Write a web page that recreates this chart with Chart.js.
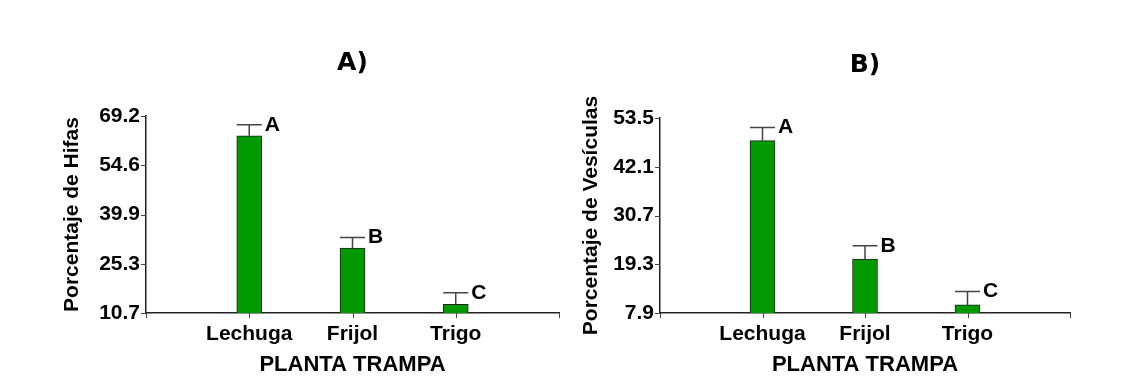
<!DOCTYPE html>
<html>
<head>
<meta charset="utf-8">
<script src="https://cdn.jsdelivr.net/npm/chart.js@4.4.1/dist/chart.umd.min.js"></script>
<style>
html,body{margin:0;padding:0;background:#fff;}
#wrap{position:relative;width:1145px;height:379px;overflow:hidden;}
.box{position:absolute;top:0;height:379px;}
</style>
</head>
<body>
<div id="wrap">
  <div class="box" style="left:0;width:572px;"><canvas id="cA" width="572" height="379"></canvas></div>
  <div class="box" style="left:572px;width:573px;"><canvas id="cB" width="573" height="379"></canvas></div>
</div>
<script>
// ---- data ----
const categories = ['Lechuga', 'Frijol', 'Trigo'];
const hifasValues = [63.3, 30.0, 13.3];
const hifasErrors = [3.3, 3.1, 3.4];
const hifasLetters = ['A', 'B', 'C'];
const hifasTicks = [10.7, 25.3, 39.9, 54.6, 69.2];
const vesiculasValues = [48.2, 20.5, 9.8];
const vesiculasErrors = [3.1, 3.1, 3.1];
const vesiculasLetters = ['A', 'B', 'C'];
const vesiculasTicks = [7.9, 19.3, 30.7, 42.1, 53.5];

const FONT = 'Liberation Sans, Arial, sans-serif';
const AXIS = '#222';

const errorPlugin = {
  id: 'errs',
  afterDatasetsDraw(chart, args, opts) {
    const ctx = chart.ctx;
    const meta = chart.getDatasetMeta(0);
    const ys = chart.scales.y;
    const xs = chart.scales.x;
    const ca = chart.chartArea;
    ctx.save();
    // axis tick marks
    ctx.strokeStyle = '#444';
    ctx.lineWidth = 1;
    ctx.beginPath();
    for (let i = 0; i < xs.ticks.length; i++) {
      const px = Math.round(xs.getPixelForTick(i)) + 0.5;
      ctx.moveTo(px, ca.bottom);
      ctx.lineTo(px, ca.bottom + 5);
    }
    ys.ticks.forEach(t => {
      const py = Math.round(ys.getPixelForValue(t.value)) + 0.5;
      ctx.moveTo(ca.left - 5, py);
      ctx.lineTo(ca.left, py);
    });
    ctx.stroke();
    meta.data.forEach((bar, i) => {
      const idx = i - 1;
      if (idx < 0 || idx >= opts.values.length) return;
      const v = opts.values[idx];
      const top = ys.getPixelForValue(v + opts.errors[idx]);
      const w = bar.width;
      const x = bar.x;
      ctx.strokeStyle = '#444';
      ctx.lineWidth = 1.5;
      ctx.beginPath();
      ctx.moveTo(x, bar.y);
      ctx.lineTo(x, top);
      ctx.moveTo(x - w / 2, top);
      ctx.lineTo(x + w / 2, top);
      ctx.stroke();
      ctx.fillStyle = '#000';
      ctx.font = 'bold 21px ' + FONT;
      ctx.textAlign = 'left';
      ctx.textBaseline = 'middle';
      ctx.fillText(opts.letters[idx], x + w / 2 + 3, top);
    });
    // panel title
    ctx.font = 'bold 25px "DejaVu Sans", sans-serif';
    ctx.textAlign = 'center';
    ctx.textBaseline = 'middle';
    ctx.fillStyle = '#000';
    ctx.fillText(opts.title, (ca.left + ca.right) / 2, opts.titleY);
    ctx.restore();
  }
};

function makeChart(id, cfg) {
  const labels = [''].concat(categories, ['']);
  const data = [null].concat(cfg.values, [null]);
  return new Chart(document.getElementById(id), {
    type: 'bar',
    data: {
      labels: labels,
      datasets: [{
        data: data,
        backgroundColor: '#009900',
        borderColor: '#222',
        borderWidth: 1,
        borderSkipped: false,
        barThickness: 25
      }]
    },
    plugins: [errorPlugin],
    options: {
      responsive: false,
      animation: false,
      devicePixelRatio: 1,
      layout: { padding: { top: cfg.padTop, right: cfg.padRight, bottom: 0, left: 0 } },
      plugins: {
        legend: { display: false },
        tooltip: { enabled: false },
        title: { display: false },
        errs: { values: cfg.values, errors: cfg.errors, letters: cfg.letters, title: cfg.title, titleY: cfg.titleY }
      },
      scales: {
        x: {
          type: 'category',
          offset: false,
          afterFit(s) { s.height = 379 - cfg.bottom; },
          grid: { display: false, offset: false, drawOnChartArea: false, drawTicks: false, tickLength: 5 },
          border: { display: true, color: AXIS, width: 1.5 },
          ticks: { color: '#000', font: { family: FONT, size: 21, weight: 'bold' }, maxRotation: 0, autoSkip: false, padding: 9 },
          title: { display: true, text: 'PLANTA TRAMPA', color: '#000', font: { family: FONT, size: 22, weight: 'bold' }, padding: { top: 0, bottom: 1 } }
        },
        y: {
          min: cfg.ticks[0],
          max: cfg.ticks[cfg.ticks.length - 1],
          afterFit(s) { s.width = cfg.left; },
          afterBuildTicks(s) { s.ticks = cfg.ticks.map(v => ({ value: v })); },
          grid: { display: false, drawOnChartArea: false, drawTicks: false, tickLength: 5 },
          border: { display: true, color: AXIS, width: 1.5 },
          ticks: {
            color: '#000', padding: 6,
            font: { family: FONT, size: 21, weight: 'bold' },
            callback: (v) => Number(v).toFixed(1)
          },
          title: { display: true, text: cfg.yTitle, color: '#000', font: { family: FONT, size: 21, weight: 'bold' }, padding: { top: cfg.yTitlePad, bottom: 0 } }
        }
      }
    }
  });
}

makeChart('cA', {
  values: hifasValues, errors: hifasErrors, letters: hifasLetters, ticks: hifasTicks,
  title: 'A)', titleY: 63, yTitle: 'Porcentaje de Hifas',
  padTop: 116, padRight: 572 - 559, left: 146, bottom: 313, yTitlePad: 60
});
makeChart('cB', {
  values: vesiculasValues, errors: vesiculasErrors, letters: vesiculasLetters, ticks: vesiculasTicks,
  title: 'B)', titleY: 65, yTitle: 'Porcentaje de Vesículas',
  padTop: 118, padRight: 573 - 498, left: 88, bottom: 313, yTitlePad: 7
});
</script>
</body>
</html>
